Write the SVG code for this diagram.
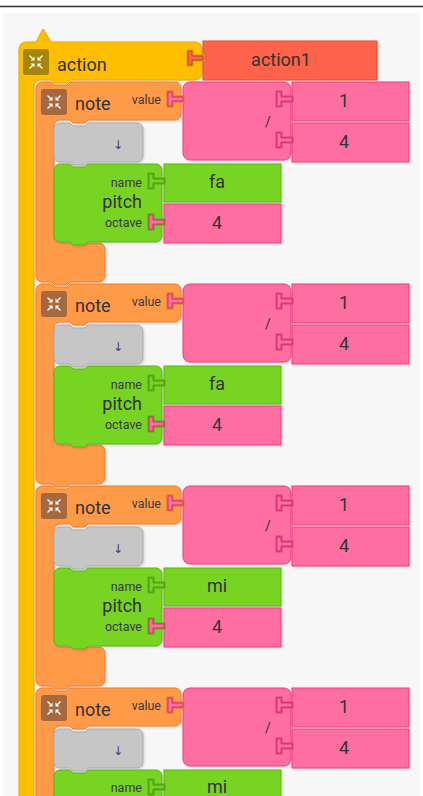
<svg xmlns="http://www.w3.org/2000/svg" width="423" height="796" viewBox="0 0 423 796">
<style>
text{font-family:Roboto,"Liberation Sans",sans-serif;fill:#333}
.lbl{font-size:18px}
.sm{font-size:12.5px;fill:#3a3a3a;text-anchor:end}
.val{font-size:18px;text-anchor:middle}
.arr{font-family:"DejaVu Sans",sans-serif;font-size:12px;text-anchor:middle;fill:#444}
.blk{filter:url(#sh)}
.yel{fill:#ffbf00;stroke:#e3a900;stroke-width:1}
.red{fill:#ff6449;stroke:#e84a35;stroke-width:1}
.org{fill:#ff9a48;stroke:#ee7f2c;stroke-width:1}
.pnk{fill:#ff6ea1;stroke:#f23c80;stroke-width:1}
.grn{fill:#77d420;stroke:#5db41a;stroke-width:1}
.gry{fill:#c6c6c6;stroke:#ababab;stroke-width:1}
.plug-p{fill:#ff6ea1;stroke:#d8306e;stroke-width:1}
.plug-g{fill:#77d420;stroke:#4f9c14;stroke-width:1}
.plug-r{fill:#ff6449;stroke:#c83c28;stroke-width:1}
.ring-o{fill:none;stroke:#e0741f;stroke-width:3}
.ring-g{fill:none;stroke:#5aa817;stroke-width:3}
.ring-y{fill:none;stroke:#d9a000;stroke-width:3}
.ring-p{fill:none;stroke:#e83a7a;stroke-width:3}
</style>
<defs>
<filter id="sh" x="-10%" y="-10%" width="130%" height="130%">
<feDropShadow dx="1" dy="1" stdDeviation="1" flood-color="#000" flood-opacity="0.15"/>
</filter>
<g id="collapse">
<path d="M-1.5,-1.5 h-4 l4,-4 Z M1.5,-1.5 h4 l-4,-4 Z M-1.5,1.5 h-4 l4,4 Z M1.5,1.5 h4 l-4,4 Z" fill="#fff"/>
<path d="M-6.5,-6.5 L-3.5,-3.5 M6.5,-6.5 L3.5,-3.5 M-6.5,6.5 L-3.5,3.5 M6.5,6.5 L3.5,3.5" stroke="#fff" stroke-width="1.3"/>
</g>
<path id="plug" d="M-15,10 h4 v5 h11 v4 h-11 v5 h-4 Z"/>
</defs>

<rect width="423" height="796" fill="#ffffff"/>
<rect x="3" y="13" width="417" height="783" fill="#f7f7f7"/>
<line x1="0" y1="6.5" x2="423" y2="6.5" stroke="#333" stroke-width="1.5"/>

<g id="action">
<path class="yel blk" d="M19,49 a7,7 0 0 1 7,-7 H36 L43,29 L51,42 H195 a7,7 0 0 1 7,7 V73 a7,7 0 0 1 -7,7 H70 l-3,3 h-12 l-3,-3 H40 a6,6 0 0 0 -6,6 V800 H19 Z"/>
<rect x="23" y="49" width="26" height="26" rx="3" fill="#a6850b"/>
<use href="#collapse" x="36" y="62"/>
<text class="lbl" x="57" y="71">action</text>
</g>
<g id="action1">
<rect class="red blk" x="203" y="41" width="174" height="39"/>
<text class="val" x="281" y="66">action1</text>
</g>

<g id="notes">
<g id="set1">
<g id="note1">
<path class="org blk" d="M36,88 a6,6 0 0 1 6,-6 H52 l3,3 h12 l3,-3 H175 a6,6 0 0 1 6,6 V114 a6,6 0 0 1 -6,6 H88 l-3,3 h-12 l-3,-3 H60 a6,6 0 0 0 -6,6 V237 a6,6 0 0 0 6,6 H99 a6,6 0 0 1 6,6 V276 a6,6 0 0 1 -6,6 H70 l-3,3 h-12 l-3,-3 H42 a6,6 0 0 1 -6,-6 Z"/>
<rect x="41" y="89" width="26" height="26" rx="3" fill="#a7683d"/>
<use href="#collapse" x="54" y="102"/>
<text class="lbl" x="75" y="110">note</text>
<text class="sm" x="161" y="104">value</text>
</g>
<g id="rest1">
<path class="gry blk" d="M54,129 a6,6 0 0 1 6,-6 H70 l3,3 h12 l3,-3 H137 a6,6 0 0 1 6,6 V156 a6,6 0 0 1 -6,6 H88 l-3,3 h-12 l-3,-3 H60 a6,6 0 0 1 -6,-6 Z"/>
<text class="arr" x="118" y="149">↓</text>
</g>
<g id="pitch1">
<path class="grn blk" d="M54,170 a6,6 0 0 1 6,-6 H70 l3,3 h12 l3,-3 H156 a6,6 0 0 1 6,6 V236 a6,6 0 0 1 -6,6 H88 l-3,3 h-12 l-3,-3 H60 a6,6 0 0 1 -6,-6 Z"/>
<text class="sm" x="142" y="187">name</text>
<text class="lbl" x="142" y="208" text-anchor="end">pitch</text>
<text class="sm" x="142" y="227">octave</text>
</g>
<g id="name1"><rect class="grn blk" x="164" y="164" width="117" height="38"/><text class="val" x="217" y="188">fa</text></g>
<g id="octave1"><rect class="pnk blk" x="164" y="204" width="117" height="39"/><text class="val" x="217" y="229">4</text></g>
<g id="divide1"><rect class="pnk blk" x="183" y="82" width="108" height="78" rx="7"/><text x="268" y="127" font-size="14" text-anchor="middle">/</text></g>
<g id="num1a"><rect class="pnk blk" x="292" y="82" width="117" height="39"/><text class="val" x="344" y="107">1</text></g>
<g id="num1b"><rect class="pnk blk" x="292" y="123" width="117" height="39"/><text class="val" x="344" y="148">4</text></g>
</g>

<g id="set2" transform="translate(0,202)">
<g id="note2">
<path class="org blk" d="M36,88 a6,6 0 0 1 6,-6 H52 l3,3 h12 l3,-3 H175 a6,6 0 0 1 6,6 V114 a6,6 0 0 1 -6,6 H88 l-3,3 h-12 l-3,-3 H60 a6,6 0 0 0 -6,6 V237 a6,6 0 0 0 6,6 H99 a6,6 0 0 1 6,6 V276 a6,6 0 0 1 -6,6 H70 l-3,3 h-12 l-3,-3 H42 a6,6 0 0 1 -6,-6 Z"/>
<rect x="41" y="89" width="26" height="26" rx="3" fill="#a7683d"/>
<use href="#collapse" x="54" y="102"/>
<text class="lbl" x="75" y="110">note</text>
<text class="sm" x="161" y="104">value</text>
</g>
<g id="rest2">
<path class="gry blk" d="M54,129 a6,6 0 0 1 6,-6 H70 l3,3 h12 l3,-3 H137 a6,6 0 0 1 6,6 V156 a6,6 0 0 1 -6,6 H88 l-3,3 h-12 l-3,-3 H60 a6,6 0 0 1 -6,-6 Z"/>
<text class="arr" x="118" y="149">↓</text>
</g>
<g id="pitch2">
<path class="grn blk" d="M54,170 a6,6 0 0 1 6,-6 H70 l3,3 h12 l3,-3 H156 a6,6 0 0 1 6,6 V236 a6,6 0 0 1 -6,6 H88 l-3,3 h-12 l-3,-3 H60 a6,6 0 0 1 -6,-6 Z"/>
<text class="sm" x="142" y="187">name</text>
<text class="lbl" x="142" y="208" text-anchor="end">pitch</text>
<text class="sm" x="142" y="227">octave</text>
</g>
<g id="name2"><rect class="grn blk" x="164" y="164" width="117" height="38"/><text class="val" x="217" y="188">fa</text></g>
<g id="octave2"><rect class="pnk blk" x="164" y="204" width="117" height="39"/><text class="val" x="217" y="229">4</text></g>
<g id="divide2"><rect class="pnk blk" x="183" y="82" width="108" height="78" rx="7"/><text x="268" y="127" font-size="14" text-anchor="middle">/</text></g>
<g id="num2a"><rect class="pnk blk" x="292" y="82" width="117" height="39"/><text class="val" x="344" y="107">1</text></g>
<g id="num2b"><rect class="pnk blk" x="292" y="123" width="117" height="39"/><text class="val" x="344" y="148">4</text></g>
</g>

<g id="set3" transform="translate(0,404)">
<g id="note3">
<path class="org blk" d="M36,88 a6,6 0 0 1 6,-6 H52 l3,3 h12 l3,-3 H175 a6,6 0 0 1 6,6 V114 a6,6 0 0 1 -6,6 H88 l-3,3 h-12 l-3,-3 H60 a6,6 0 0 0 -6,6 V237 a6,6 0 0 0 6,6 H99 a6,6 0 0 1 6,6 V276 a6,6 0 0 1 -6,6 H70 l-3,3 h-12 l-3,-3 H42 a6,6 0 0 1 -6,-6 Z"/>
<rect x="41" y="89" width="26" height="26" rx="3" fill="#a7683d"/>
<use href="#collapse" x="54" y="102"/>
<text class="lbl" x="75" y="110">note</text>
<text class="sm" x="161" y="104">value</text>
</g>
<g id="rest3">
<path class="gry blk" d="M54,129 a6,6 0 0 1 6,-6 H70 l3,3 h12 l3,-3 H137 a6,6 0 0 1 6,6 V156 a6,6 0 0 1 -6,6 H88 l-3,3 h-12 l-3,-3 H60 a6,6 0 0 1 -6,-6 Z"/>
<text class="arr" x="118" y="149">↓</text>
</g>
<g id="pitch3">
<path class="grn blk" d="M54,170 a6,6 0 0 1 6,-6 H70 l3,3 h12 l3,-3 H156 a6,6 0 0 1 6,6 V236 a6,6 0 0 1 -6,6 H88 l-3,3 h-12 l-3,-3 H60 a6,6 0 0 1 -6,-6 Z"/>
<text class="sm" x="142" y="187">name</text>
<text class="lbl" x="142" y="208" text-anchor="end">pitch</text>
<text class="sm" x="142" y="227">octave</text>
</g>
<g id="name3"><rect class="grn blk" x="164" y="164" width="117" height="38"/><text class="val" x="217" y="188">mi</text></g>
<g id="octave3"><rect class="pnk blk" x="164" y="204" width="117" height="39"/><text class="val" x="217" y="229">4</text></g>
<g id="divide3"><rect class="pnk blk" x="183" y="82" width="108" height="78" rx="7"/><text x="268" y="127" font-size="14" text-anchor="middle">/</text></g>
<g id="num3a"><rect class="pnk blk" x="292" y="82" width="117" height="39"/><text class="val" x="344" y="107">1</text></g>
<g id="num3b"><rect class="pnk blk" x="292" y="123" width="117" height="39"/><text class="val" x="344" y="148">4</text></g>
</g>

<g id="set4" transform="translate(0,606)">
<g id="note4">
<path class="org blk" d="M36,88 a6,6 0 0 1 6,-6 H52 l3,3 h12 l3,-3 H175 a6,6 0 0 1 6,6 V114 a6,6 0 0 1 -6,6 H88 l-3,3 h-12 l-3,-3 H60 a6,6 0 0 0 -6,6 V237 a6,6 0 0 0 6,6 H99 a6,6 0 0 1 6,6 V276 a6,6 0 0 1 -6,6 H70 l-3,3 h-12 l-3,-3 H42 a6,6 0 0 1 -6,-6 Z"/>
<rect x="41" y="89" width="26" height="26" rx="3" fill="#a7683d"/>
<use href="#collapse" x="54" y="102"/>
<text class="lbl" x="75" y="110">note</text>
<text class="sm" x="161" y="104">value</text>
</g>
<g id="rest4">
<path class="gry blk" d="M54,129 a6,6 0 0 1 6,-6 H70 l3,3 h12 l3,-3 H137 a6,6 0 0 1 6,6 V156 a6,6 0 0 1 -6,6 H88 l-3,3 h-12 l-3,-3 H60 a6,6 0 0 1 -6,-6 Z"/>
<text class="arr" x="118" y="149">↓</text>
</g>
<g id="pitch4">
<path class="grn blk" d="M54,170 a6,6 0 0 1 6,-6 H70 l3,3 h12 l3,-3 H156 a6,6 0 0 1 6,6 V236 a6,6 0 0 1 -6,6 H88 l-3,3 h-12 l-3,-3 H60 a6,6 0 0 1 -6,-6 Z"/>
<text class="sm" x="142" y="186">name</text>
</g>
<g id="name4"><rect class="grn blk" x="164" y="164" width="117" height="38"/><text class="val" x="217" y="187" font-size="17">mi</text></g>
<g id="divide4"><rect class="pnk blk" x="183" y="82" width="108" height="78" rx="7"/><text x="268" y="127" font-size="14" text-anchor="middle">/</text></g>
<g id="num4a"><rect class="pnk blk" x="292" y="82" width="117" height="39"/><text class="val" x="344" y="107">1</text></g>
<g id="num4b"><rect class="pnk blk" x="292" y="123" width="117" height="39"/><text class="val" x="344" y="148">4</text></g>
</g>
</g>

<g id="connectors">
<use href="#plug" x="203" y="41" class="ring-y"/>
<use href="#plug" x="203" y="41" class="plug-r"/>
<g id="plugs1">
<use href="#plug" x="183" y="82" class="ring-o"/><use href="#plug" x="183" y="82" class="plug-p"/>
<use href="#plug" x="292" y="82" class="ring-p"/><use href="#plug" x="292" y="82" class="plug-p"/>
<use href="#plug" x="292" y="123" class="ring-p"/><use href="#plug" x="292" y="123" class="plug-p"/>
<use href="#plug" x="164" y="164" class="ring-g"/><use href="#plug" x="164" y="164" class="plug-g"/>
<use href="#plug" x="164" y="205" class="ring-g"/><use href="#plug" x="164" y="205" class="plug-p"/>
</g>
<g id="plugs2" transform="translate(0,202)">
<use href="#plug" x="183" y="82" class="ring-o"/><use href="#plug" x="183" y="82" class="plug-p"/>
<use href="#plug" x="292" y="82" class="ring-p"/><use href="#plug" x="292" y="82" class="plug-p"/>
<use href="#plug" x="292" y="123" class="ring-p"/><use href="#plug" x="292" y="123" class="plug-p"/>
<use href="#plug" x="164" y="164" class="ring-g"/><use href="#plug" x="164" y="164" class="plug-g"/>
<use href="#plug" x="164" y="205" class="ring-g"/><use href="#plug" x="164" y="205" class="plug-p"/>
</g>
<g id="plugs3" transform="translate(0,404)">
<use href="#plug" x="183" y="82" class="ring-o"/><use href="#plug" x="183" y="82" class="plug-p"/>
<use href="#plug" x="292" y="82" class="ring-p"/><use href="#plug" x="292" y="82" class="plug-p"/>
<use href="#plug" x="292" y="123" class="ring-p"/><use href="#plug" x="292" y="123" class="plug-p"/>
<use href="#plug" x="164" y="164" class="ring-g"/><use href="#plug" x="164" y="164" class="plug-g"/>
<use href="#plug" x="164" y="205" class="ring-g"/><use href="#plug" x="164" y="205" class="plug-p"/>
</g>
<g id="plugs4" transform="translate(0,606)">
<use href="#plug" x="183" y="82" class="ring-o"/><use href="#plug" x="183" y="82" class="plug-p"/>
<use href="#plug" x="292" y="82" class="ring-p"/><use href="#plug" x="292" y="82" class="plug-p"/>
<use href="#plug" x="292" y="123" class="ring-p"/><use href="#plug" x="292" y="123" class="plug-p"/>
<use href="#plug" x="164" y="164" class="ring-g"/><use href="#plug" x="164" y="164" class="plug-g"/>
</g>
</g>
</svg>
